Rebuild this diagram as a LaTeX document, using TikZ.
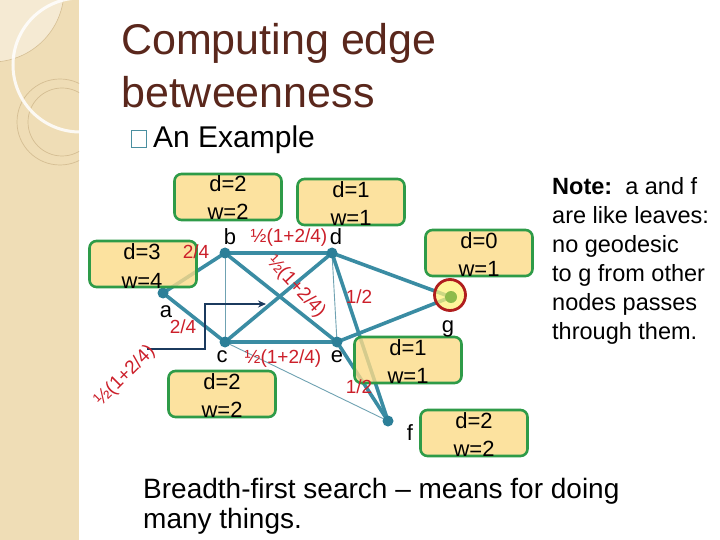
\documentclass[tikz,border=0pt]{standalone}
\usepackage{fontspec}
\setmainfont{Liberation Sans}
\usetikzlibrary{arrows.meta}
\definecolor{edgec}{HTML}{3A8CA3}
\definecolor{thinc}{HTML}{6FA2B2}
\definecolor{dotc}{HTML}{2C7F98}
\definecolor{boxfill}{HTML}{FCDB88}
\definecolor{boxdraw}{HTML}{2E9B48}
\definecolor{lblred}{HTML}{CC1F2A}
\definecolor{titlec}{HTML}{5A271C}
\definecolor{stripc}{HTML}{EFDDB6}
\definecolor{striplight}{HTML}{F5EAD3}
\definecolor{ringc}{HTML}{D5BE93}
\definecolor{navyc}{HTML}{1B3A5E}
\definecolor{bulletc}{HTML}{4A8FA0}
\definecolor{gring}{HTML}{B01E1E}
\definecolor{gfill}{HTML}{FFF27A}
\definecolor{gdotc}{HTML}{8DBB4C}
\tikzset{
  vtx/.style={circle, fill=dotc, minimum size=11bp, inner sep=0pt},
  bigedge/.style={line width=3.6bp, draw=edgec},
  thinedge/.style={line width=0.9bp, draw=thinc},
  infobox/.style={rounded corners=7bp, draw=boxdraw, line width=2.6bp, fill=boxfill, fill opacity=0.8, minimum width=107bp, minimum height=46bp, inner sep=0pt},
  boxtxt/.style={font=\fontsize{22bp}{22bp}\selectfont, anchor=base, inner sep=0pt},
  vname/.style={font=\fontsize{22bp}{22bp}\selectfont, anchor=base, inner sep=0pt},
  redlbl/.style={font=\fontsize{19bp}{19bp}\selectfont, text=lblred, inner sep=0pt},
  notetxt/.style={font=\fontsize{23.5bp}{23.5bp}\selectfont, anchor=base west, inner sep=0pt},
  bodytxt/.style={font=\fontsize{28bp}{28bp}\selectfont, anchor=base west, inner sep=0pt},
  titletxt/.style={font=\fontsize{43bp}{43bp}\selectfont, anchor=base west, inner sep=0pt}
}
\begin{document}
\begin{tikzpicture}[x=1bp,y=-1bp]
\useasboundingbox (0,0) rectangle (720,540);
\fill[white] (0,0) rectangle (720,540);
% left decorative strip
\fill[stripc] (0,0) rectangle (79,540);
\begin{scope}
  \clip (0,0) rectangle (79,540);
  \fill[striplight] (-8,-10) circle (72);
  \draw[ringc, line width=0.6bp] (-8,-10) circle (72);
  \draw[ringc, line width=0.7bp] (60,122) circle (43);
  \draw[ringc, line width=0.7bp] (62,122) circle (34);
  \draw[white, line width=3bp, opacity=0.85] (80,65) circle (67);
\end{scope}
% title
\node[titletxt, text=titlec] (t1) at (121,55) {Computing edge};
\node[titletxt, text=titlec] (t2) at (121,108) {betweenness};
% bullet line
\node[draw=bulletc, line width=1.2bp, minimum width=15bp, minimum height=17bp, inner sep=0pt] (bul) at (139,139) {};
\node[font=\fontsize{30bp}{30bp}\selectfont, anchor=base west, inner sep=0pt] (ex) at (153,148) {An Example};
% vertices
\coordinate (a) at (163,293);
\coordinate (b) at (225,253);
\coordinate (c) at (225,342);
\coordinate (d) at (332,253);
\coordinate (e) at (337,342);
\coordinate (f) at (388,421);
\coordinate (gc) at (451,297);
% edges
\draw[thinedge] (b) -- (c);
\draw[thinedge] (c) -- (f);
\draw[thinedge] (d) -- (e);
\draw[bigedge] (a) -- (b);
\draw[bigedge] (a) -- (c);
\draw[bigedge] (b) -- (d);
\draw[bigedge] (b) -- (e);
\draw[bigedge] (c) -- (d);
\draw[bigedge] (c) -- (e);
\draw[bigedge] (d) -- (gc);
\draw[bigedge] (d) -- (f);
\draw[bigedge] (e) -- (gc);
\draw[bigedge] (e) -- (f);
% vertex dots
\foreach \v in {a,b,c,d,e,f} \node[vtx] (dot\v) at (\v) {};
% g
\node[circle, draw=gring, line width=2.8bp, fill=gfill, fill opacity=0.75, minimum size=31bp, inner sep=0pt] (g) at (450,295) {};
\node[circle, fill=gdotc, minimum size=12bp, inner sep=0pt] (gdot) at (gc) {};
% navy arrow
\coordinate (ar0) at (147,349);
\coordinate (ar1) at (205,349);
\coordinate (ar2) at (205,304);
\coordinate (ar3) at (266,304);
\draw[navyc, line width=2bp, -{Stealth[length=8bp,width=7bp]}] (ar0) -- (ar1) -- (ar2) -- (ar3);
% boxes
\node[infobox] (boxb) at (228,197) {};
\node[infobox] (boxd) at (351,202) {};
\node[infobox] (boxa) at (143,264) {};
\node[infobox] (boxc) at (222,394) {};
\node[infobox] (boxg) at (479,253) {};
\node[infobox] (boxe) at (408,360) {};
\node[infobox] (boxf) at (474,433) {};
% box texts
\node[boxtxt] (tb1) at (228,192) {d=2};
\node[boxtxt] (tb2) at (228,220) {w=2};
\node[boxtxt] (td1) at (351,198) {d=1};
\node[boxtxt] (td2) at (351,226) {w=1};
\node[boxtxt] (ta1) at (142,260) {d=3};
\node[boxtxt] (ta2) at (142,288) {w=4};
\node[boxtxt] (tc1) at (222,389) {d=2};
\node[boxtxt] (tc2) at (222,417) {w=2};
\node[boxtxt] (tg1) at (479,249) {d=0};
\node[boxtxt] (tg2) at (479,277) {w=1};
\node[boxtxt] (te1) at (408,355) {d=1};
\node[boxtxt] (te2) at (408,383) {w=1};
\node[boxtxt] (tf1) at (474,428) {d=2};
\node[boxtxt] (tf2) at (474,456) {w=2};
% vertex names
\node[vname] (na) at (166,317) {a};
\node[vname] (nb) at (230,245) {b};
\node[vname] (nc) at (222,362) {c};
\node[vname] (nd) at (336,245) {d};
\node[vname] (ne) at (337,362) {e};
\node[vname] (ng) at (448,332) {g};
\node[vname] (nf) at (410,440) {f};
% red labels
\node[redlbl, anchor=base] (l1) at (196,259) {2/4};
\node[redlbl, anchor=base] (l2) at (183,333) {2/4};
\node[redlbl, anchor=base] (l3) at (289,243) {½(1+2/4)};
\node[redlbl, anchor=base] (l4) at (283,363) {½(1+2/4)};
\node[redlbl, anchor=base] (l5) at (359,303) {1/2};
\node[redlbl, anchor=base] (l6) at (359,393) {1/2};
\node[redlbl, rotate=-47] (l7) at (296,287) {½(1+2/4)};
\node[redlbl, rotate=45] (l8) at (125,376) {½(1+2/4)};
% note
\node[notetxt] (n1) at (552,195) {\textbf{Note:}\ \ a and f};
\node[notetxt] (n2) at (552,224) {are like leaves:};
\node[notetxt] (n3) at (552,253) {no geodesic};
\node[notetxt] (n4) at (552,282) {to g from other};
\node[notetxt] (n5) at (552,310) {nodes passes};
\node[notetxt] (n6) at (552,339) {through them.};
% bottom text
\node[bodytxt] (bt1) at (143,498) {Breadth-first search – means for doing};
\node[bodytxt] (bt2) at (143,528) {many things.};
\end{tikzpicture}
\end{document}
